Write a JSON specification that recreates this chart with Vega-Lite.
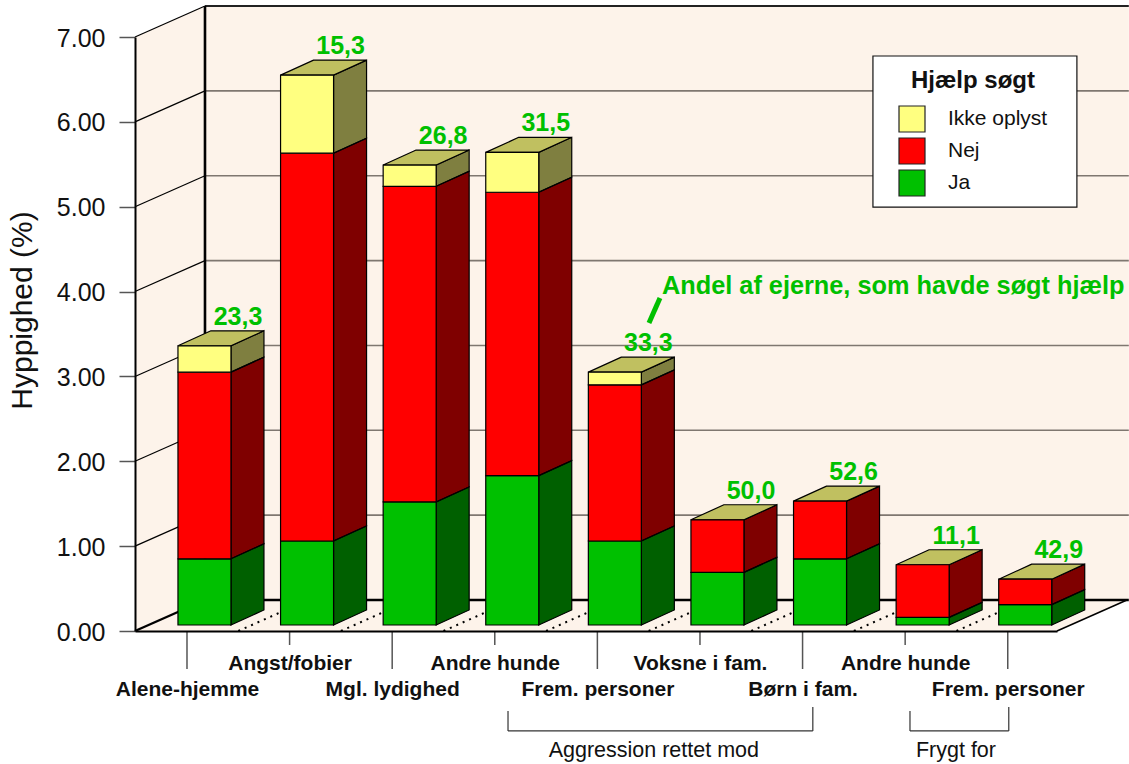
{"$schema":"https://vega.github.io/schema/vega-lite/v6.json","width":922,"height":594,"autosize":"none","padding":{"left":135,"top":37,"right":72,"bottom":133},"background":"white",
"config":{"font":"Liberation Sans","view":{"stroke":null}},
"datasets":{
"segments":[
{"idx":0,"kategori":"Alene-hjemme","serie":"Ja","lav":0,"hoej":0.78,"andel":"23,3"},{"idx":0,"kategori":"Alene-hjemme","serie":"Nej","lav":0.78,"hoej":2.98,"andel":"23,3"},{"idx":0,"kategori":"Alene-hjemme","serie":"Ikke oplyst","lav":2.98,"hoej":3.29,"andel":"23,3"},
{"idx":1,"kategori":"Angst/fobier","serie":"Ja","lav":0,"hoej":0.99,"andel":"15,3"},{"idx":1,"kategori":"Angst/fobier","serie":"Nej","lav":0.99,"hoej":5.56,"andel":"15,3"},{"idx":1,"kategori":"Angst/fobier","serie":"Ikke oplyst","lav":5.56,"hoej":6.48,"andel":"15,3"},
{"idx":2,"kategori":"Mgl. lydighed","serie":"Ja","lav":0,"hoej":1.45,"andel":"26,8"},{"idx":2,"kategori":"Mgl. lydighed","serie":"Nej","lav":1.45,"hoej":5.17,"andel":"26,8"},{"idx":2,"kategori":"Mgl. lydighed","serie":"Ikke oplyst","lav":5.17,"hoej":5.42,"andel":"26,8"},
{"idx":3,"kategori":"Andre hunde","serie":"Ja","lav":0,"hoej":1.76,"andel":"31,5"},{"idx":3,"kategori":"Andre hunde","serie":"Nej","lav":1.76,"hoej":5.1,"andel":"31,5"},{"idx":3,"kategori":"Andre hunde","serie":"Ikke oplyst","lav":5.1,"hoej":5.57,"andel":"31,5"},
{"idx":4,"kategori":"Frem. personer","serie":"Ja","lav":0,"hoej":0.99,"andel":"33,3"},{"idx":4,"kategori":"Frem. personer","serie":"Nej","lav":0.99,"hoej":2.83,"andel":"33,3"},{"idx":4,"kategori":"Frem. personer","serie":"Ikke oplyst","lav":2.83,"hoej":2.98,"andel":"33,3"},
{"idx":5,"kategori":"Voksne i fam.","serie":"Ja","lav":0,"hoej":0.62,"andel":"50,0"},{"idx":5,"kategori":"Voksne i fam.","serie":"Nej","lav":0.62,"hoej":1.24,"andel":"50,0"},
{"idx":6,"kategori":"Børn i fam.","serie":"Ja","lav":0,"hoej":0.78,"andel":"52,6"},{"idx":6,"kategori":"Børn i fam.","serie":"Nej","lav":0.78,"hoej":1.46,"andel":"52,6"},
{"idx":7,"kategori":"Andre hunde","serie":"Ja","lav":0,"hoej":0.09,"andel":"11,1"},{"idx":7,"kategori":"Andre hunde","serie":"Nej","lav":0.09,"hoej":0.71,"andel":"11,1"},
{"idx":8,"kategori":"Frem. personer","serie":"Ja","lav":0,"hoej":0.24,"andel":"42,9"},{"idx":8,"kategori":"Frem. personer","serie":"Nej","lav":0.24,"hoej":0.54,"andel":"42,9"}
],
"depth":[{"d":0},{"d":1}],
"levels":[{"v":0},{"v":1},{"v":2},{"v":3},{"v":4},{"v":5},{"v":6},{"v":7}],
"slots":[{"i":0},{"i":1},{"i":2},{"i":3},{"i":4},{"i":5},{"i":6},{"i":7},{"i":8}],
"groups":[{"gruppe":"Aggression rettet mod","fra":3.129,"til":6.1,"midt":4.55},{"gruppe":"Frygt for","fra":7.047,"til":8.01,"midt":7.495}]
},
"layer":[
{"data":{"name":"depth"},"transform":[{"calculate":"-0.5068+datum.d*0.6822","as":"x"},{"calculate":"datum.d*0.365","as":"y"},{"calculate":"7+datum.d*0.365","as":"y2"}],
"mark":{"type":"area","orient":"vertical","color":"#FDF3EA"},
"encoding":{
"x":{"field":"x","type":"quantitative","scale":{"domain":[-0.5068,8.48],"nice":false,"zero":false},
"axis":{"title":null,"values":[0,1,2,3,4,5,6,7,8],"ticks":false,"grid":false,"domainColor":"#000","domainWidth":2,"zindex":1,"labelAngle":0,"labelOverlap":false,"labelFlush":false,"labelFont":"Liberation Sans","labelFontWeight":"bold","labelFontSize":21,"labelColor":"#111","labelPadding":21,"labelBaseline":"top","labelLineHeight":26,
"labelExpr":"datum.value%2==0 ? ['', ['Alene-hjemme','Angst/fobier','Mgl. lydighed','Andre hunde','Frem. personer','Voksne i fam.','Børn i fam.','Andre hunde','Frem. personer'][datum.value]] : ['Alene-hjemme','Angst/fobier','Mgl. lydighed','Andre hunde','Frem. personer','Voksne i fam.','Børn i fam.','Andre hunde','Frem. personer'][datum.value]"}},
"y":{"field":"y","type":"quantitative","scale":{"domain":[0,7],"nice":false,"zero":false},
"axis":{"title":"Hyppighed (%)","titleX":-98,"titleY":273,"titleFont":"Liberation Sans","titleFontWeight":"normal","titleFontSize":30,"titleColor":"#111","values":[0,1,2,3,4,5,6,7],"format":".2f","grid":false,"domainColor":"#000","domainWidth":2,"tickColor":"#555","tickWidth":1.5,"tickSize":16,"labelFontSize":25,"labelFont":"Liberation Sans","labelColor":"#111","labelPadding":14,"labelOffset":1,"zindex":1}},
"y2":{"field":"y2"}}},
{"data":{"name":"depth"},"transform":[{"calculate":"-0.5068+datum.d*0.6822","as":"x"},{"calculate":"8.48+datum.d*0.6822","as":"x2"},{"calculate":"datum.d*0.365","as":"y"}],
"mark":{"type":"area","orient":"horizontal","color":"#FDF3EA"},
"encoding":{"y":{"field":"y","type":"quantitative"},"x":{"field":"x","type":"quantitative"},"x2":{"field":"x2"}}},
{"mark":{"type":"rect","color":"#FDF3EA"},"encoding":{"x":{"datum":0.1754,"type":"quantitative"},"x2":{"datum":9.18},"y":{"datum":0.365,"type":"quantitative"},"y2":{"datum":7.365}},"data":{"values":[{}]}},
{"data":{"name":"levels"},"transform":[{"filter":"datum.v>0&&datum.v<7"},{"calculate":"datum.v+0.365","as":"yb"}],"mark":{"type":"rule","color":"#7F7770","strokeWidth":1.6},
"encoding":{"x":{"datum":0.1754,"type":"quantitative"},"x2":{"datum":9.18},"y":{"field":"yb","type":"quantitative"}}},
{"data":{"name":"levels"},"transform":[{"filter":"datum.v>0"},{"calculate":"datum.v+0.365","as":"yb"}],"mark":{"type":"rule","color":"#000","strokeWidth":1.2},
"encoding":{"x":{"datum":-0.5068,"type":"quantitative"},"x2":{"datum":0.1754},"y":{"field":"v","type":"quantitative"},"y2":{"field":"yb"}}},
{"data":{"values":[{}]},"mark":{"type":"rule","color":"#222","strokeWidth":2},"encoding":{"x":{"datum":0.1754,"type":"quantitative"},"x2":{"datum":9.18},"y":{"datum":7.365,"type":"quantitative"}}},
{"data":{"values":[{}]},"mark":{"type":"rule","color":"#000","strokeWidth":2.6},"encoding":{"x":{"datum":0.1754,"type":"quantitative"},"y":{"datum":0.365,"type":"quantitative"},"y2":{"datum":7.365}}},
{"data":{"values":[{}]},"mark":{"type":"rule","color":"#000","strokeWidth":2.6},"encoding":{"x":{"datum":0.1754,"type":"quantitative"},"x2":{"datum":9.18},"y":{"datum":0.365,"type":"quantitative"}}},
{"data":{"values":[{}]},"mark":{"type":"rule","color":"#000","strokeWidth":2.4},"encoding":{"x":{"datum":-0.5068,"type":"quantitative"},"x2":{"datum":0.1754},"y":{"datum":0,"type":"quantitative"},"y2":{"datum":0.365}}},
{"data":{"values":[{}]},"mark":{"type":"rule","color":"#000","strokeWidth":1.5},"encoding":{"x":{"datum":8.48,"type":"quantitative"},"x2":{"datum":9.162},"y":{"datum":0,"type":"quantitative"},"y2":{"datum":0.365}}},
{"data":{"name":"slots"},"transform":[{"filter":"datum.i<8"},{"calculate":"datum.i+0.5","as":"xa"},{"calculate":"datum.xa+0.6822","as":"xb"},{"calculate":"0.365","as":"yb"},{"calculate":"0","as":"y0"}],"mark":{"type":"rule","color":"#000","strokeWidth":2,"strokeDash":[2,5]},
"encoding":{"x":{"field":"xa","type":"quantitative"},"x2":{"field":"xb"},"y":{"field":"y0","type":"quantitative"},"y2":{"field":"yb"}}},
{"data":{"name":"slots"},"transform":[{"calculate":"datum.i%2==0?-0.448:-0.165","as":"yt"},{"calculate":"0","as":"y0"}],"mark":{"type":"rule","color":"#555","strokeWidth":1.5},
"encoding":{"x":{"field":"i","type":"quantitative"},"y":{"field":"y0","type":"quantitative"},"y2":{"field":"yt"}}},
{"data":{"values":[{}]},"mark":{"type":"rect","fill":"white","stroke":"#111","strokeWidth":1.2},"encoding":{"x":{"datum":6.686,"type":"quantitative"},"x2":{"datum":8.674},"y":{"datum":6.776,"type":"quantitative"},"y2":{"datum":4.996}}},
{"data":{"name":"segments"},"transform":[{"calculate":"0","as":"a"},{"calculate":"1","as":"b"},{"fold":["a","b"],"as":["k","d"]},{"calculate":"datum.idx+0.4286+datum.d*0.3216","as":"xs"},{"calculate":"datum.lav+0.0707+datum.d*0.177","as":"y1"},{"calculate":"datum.hoej+0.0707+datum.d*0.177","as":"y2"}],
"mark":{"type":"area","orient":"vertical"},
"encoding":{"x":{"field":"xs","type":"quantitative"},"y":{"field":"y1","type":"quantitative"},"y2":{"field":"y2"},"detail":{"field":"idx"},"color":{"field":"serie","type":"nominal","scale":{"domain":["Ikke oplyst","Nej","Ja"],"range":["#FFFF80","#FF0000","#00C000"]}}}},
{"data":{"name":"segments"},"transform":[{"calculate":"0","as":"a"},{"calculate":"1","as":"b"},{"fold":["a","b"],"as":["k","d"]},{"calculate":"datum.idx+0.4286+datum.d*0.3216","as":"xs"},{"calculate":"datum.lav+0.0707+datum.d*0.177","as":"y1"},{"calculate":"datum.hoej+0.0707+datum.d*0.177","as":"y2"}],
"mark":{"type":"area","orient":"vertical","color":"#000","fillOpacity":0.5,"stroke":"#000","strokeWidth":1.2},
"encoding":{"x":{"field":"xs","type":"quantitative"},"y":{"field":"y1","type":"quantitative"},"y2":{"field":"y2"},"detail":[{"field":"idx"},{"field":"serie"}]}},
{"data":{"name":"segments"},"transform":[{"joinaggregate":[{"op":"max","field":"hoej","as":"top"}],"groupby":["idx"]},{"filter":"datum.hoej==datum.top"},{"calculate":"0","as":"a"},{"calculate":"1","as":"b"},{"fold":["a","b"],"as":["k","d"]},{"calculate":"datum.idx-0.088+datum.d*0.3216","as":"x1"},{"calculate":"datum.x1+0.5166","as":"x2"},{"calculate":"datum.top+0.0707+datum.d*0.177","as":"yt"}],
"mark":{"type":"area","orient":"horizontal","color":"#C0C060","stroke":"#000","strokeWidth":1.2},
"encoding":{"y":{"field":"yt","type":"quantitative"},"x":{"field":"x1","type":"quantitative"},"x2":{"field":"x2"},"detail":{"field":"idx"}}},
{"data":{"name":"segments"},"transform":[{"calculate":"datum.idx-0.088","as":"x1"},{"calculate":"datum.x1+0.5166","as":"x2"},{"calculate":"datum.lav+0.0707","as":"y1"},{"calculate":"datum.hoej+0.0707","as":"y2"}],
"mark":{"type":"rect","stroke":"#000","strokeWidth":1.2},
"encoding":{"x":{"field":"x1","type":"quantitative"},"x2":{"field":"x2"},"y":{"field":"y1","type":"quantitative"},"y2":{"field":"y2"},
"color":{"field":"serie","type":"nominal","scale":{"domain":["Ikke oplyst","Nej","Ja"],"range":["#FFFF80","#FF0000","#00C000"]},
"legend":{"title":"Hjælp søgt","orient":"none","legendX":763,"legendY":32,"padding":0,"titleFont":"Liberation Sans","titleFontSize":24,"titleFontWeight":"bold","titleColor":"#111","titleAnchor":"middle","titlePadding":12,"labelFont":"Liberation Sans","labelFontSize":21,"labelColor":"#111","labelOffset":22,"symbolType":"square","symbolSize":676,"symbolStrokeColor":"#222","symbolStrokeWidth":1.2,"rowPadding":0,"values":["Ikke oplyst","Nej","Ja"]}}}},
{"data":{"name":"segments"},"transform":[{"joinaggregate":[{"op":"max","field":"hoej","as":"top"}],"groupby":["idx"]},{"filter":"datum.hoej==datum.top"},{"calculate":"datum.idx+0.497","as":"xl"},{"calculate":"datum.top+0.0707+0.177+0.07","as":"yl"}],
"mark":{"type":"text","font":"Liberation Sans","fontWeight":"bold","fontSize":25,"color":"#00C000","baseline":"alphabetic","align":"center"},
"encoding":{"x":{"field":"xl","type":"quantitative"},"y":{"field":"yl","type":"quantitative"},"text":{"field":"andel"}}},
{"data":{"values":[{"note":"Andel af ejerne, som havde søgt hjælp"}]},"mark":{"type":"text","font":"Liberation Sans","fontWeight":"bold","fontSize":25.3,"color":"#00C000","baseline":"alphabetic","align":"left"},
"encoding":{"x":{"datum":4.63,"type":"quantitative"},"y":{"datum":3.97,"type":"quantitative"},"text":{"field":"note"}}},
{"data":{"values":[{}]},"mark":{"type":"rule","color":"#00C000","strokeWidth":5},"encoding":{"x":{"datum":4.503,"type":"quantitative"},"x2":{"datum":4.61},"y":{"datum":3.63,"type":"quantitative"},"y2":{"datum":3.924}}},
{"data":{"name":"groups"},"transform":[{"calculate":"-1.178","as":"yb"}],"mark":{"type":"rule","color":"#333","strokeWidth":1.2},"encoding":{"x":{"field":"fra","type":"quantitative"},"x2":{"field":"til"},"y":{"field":"yb","type":"quantitative"}}},
{"data":{"name":"groups"},"transform":[{"calculate":"-1.178","as":"yb"},{"calculate":"-0.943","as":"yt"}],"mark":{"type":"rule","color":"#333","strokeWidth":1.2},"encoding":{"x":{"field":"fra","type":"quantitative"},"y":{"field":"yb","type":"quantitative"},"y2":{"field":"yt"}}},
{"data":{"name":"groups"},"transform":[{"calculate":"-1.178","as":"yb"},{"calculate":"-0.896","as":"yt"}],"mark":{"type":"rule","color":"#333","strokeWidth":1.2},"encoding":{"x":{"field":"til","type":"quantitative"},"y":{"field":"yb","type":"quantitative"},"y2":{"field":"yt"}}},
{"data":{"name":"groups"},"transform":[{"calculate":"-1.485","as":"yt"}],"mark":{"type":"text","font":"Liberation Sans","fontSize":21.5,"color":"#111","baseline":"alphabetic","align":"center"},"encoding":{"x":{"field":"midt","type":"quantitative"},"y":{"field":"yt","type":"quantitative"},"text":{"field":"gruppe"}}}
]}
